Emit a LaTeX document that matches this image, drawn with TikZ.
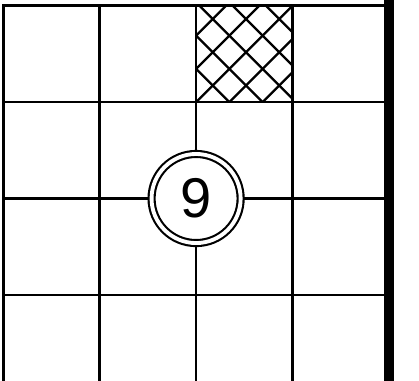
\documentclass[tikz,border=0pt]{standalone}
\usepackage{fontspec}
\setmainfont{Liberation Sans}

\begin{document}
\begin{tikzpicture}[x=1in, y=1in,
    gridline/.style={line width=2pt, line cap=rect},
    hatchline/.style={line width=1.7pt},
    ringnode/.style={circle, draw, double, double distance=2.9pt, line width=1.6pt,
        fill=white, inner sep=0pt, minimum size=0.924in,
        font=\fontsize{42}{42}\selectfont}]

\useasboundingbox (-0.034,-3.889) rectangle (4.312,0.059);

% ==== HATCHED CELL ====
\begin{scope}
    \clip (2,-1) rectangle (3,0);
    \foreach \k in {-3,...,6}{
        \draw[hatchline] ({1+\k*0.345+2},-2) -- ({1+\k*0.345-2},2);
        \draw[hatchline] ({3+\k*0.345-2},-2) -- ({3+\k*0.345+2},2);
    }
\end{scope}

% ==== GRID ====
\foreach \i in {0,...,3}{
    \draw[gridline] (\i,0) -- (\i,-3.95);
    \draw[gridline] (0,-\i) -- (4,-\i);
}

% ==== RIGHT EDGE ====
\draw[line width=7.9pt] (4,0.1) -- (4,-3.95);

% ==== MARKER ====
\node[ringnode] (nine) at (2,-2) {9};

\end{tikzpicture}
\end{document}
